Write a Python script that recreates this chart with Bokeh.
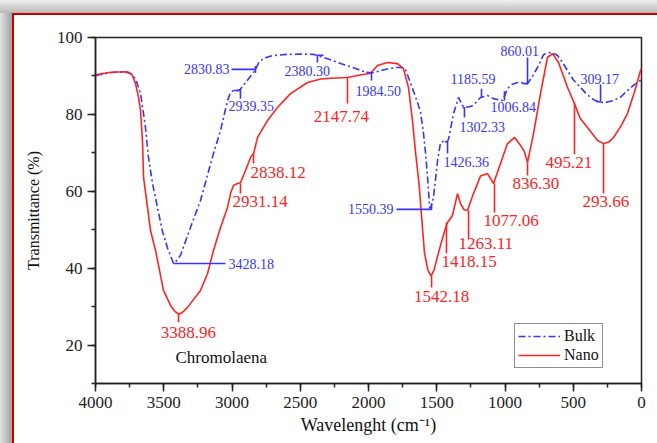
from bokeh.plotting import figure
from bokeh.models import Range1d, SingleIntervalTicker, Legend, LegendItem, ColumnDataSource
from bokeh.core.properties import value
from bokeh.embed import file_html
from bokeh.resources import INLINE

# ---------------- data ----------------
bulk_wn = [4000, 3900, 3850, 3780, 3743, 3707, 3670, 3648, 3634, 3612, 3582, 3546, 3509, 3470, 3428,
           3400, 3377, 3304, 3231, 3136, 3084, 3033, 3011, 2990, 2960, 2940, 2900, 2860, 2831, 2800,
           2750, 2700, 2600, 2500, 2400, 2380, 2300, 2200, 2100, 2030, 1985, 1950, 1900, 1850, 1800,
           1760, 1730, 1707, 1670, 1640, 1619, 1600, 1582, 1565, 1552, 1540, 1524, 1494, 1472, 1450,
           1426, 1414, 1377, 1341, 1311, 1297, 1260, 1231, 1179, 1128, 1084, 1050, 1018, 1000, 982,
           950, 908, 870, 835, 800, 762, 718, 690, 667, 640, 615, 580, 542, 500, 447, 410, 374, 340,
           300, 250, 205, 150, 103, 50, 0]
bulk_t = [90.1, 90.8, 91.0, 91.0, 90.6, 89.3, 85.4, 80.2, 76.6, 68.8, 62.0, 55.8, 49.5, 45.0, 41.2,
          42.2, 43.4, 50.6, 57.6, 69.8, 75.8, 83.6, 85.7, 86.2, 86.2, 86.5, 88.3, 90.1, 91.4, 93.8,
          94.8, 95.3, 95.6, 95.7, 95.6, 95.4, 94.5, 93.2, 92.0, 91.1, 90.7, 91.0, 91.5, 91.9, 92.2,
          92.2, 91.8, 89.6, 86.0, 83.0, 80.5, 76.0, 70.0, 62.5, 55.6, 56.2, 58.4, 68.0, 72.7, 73.0,
          72.8, 73.5, 80.2, 84.4, 82.3, 81.8, 82.0, 82.4, 84.4, 84.9, 84.1, 83.8, 83.6, 85.0, 86.7,
          87.8, 88.3, 88.2, 88.0, 89.8, 92.2, 95.5, 96.0, 96.1, 95.8, 95.3, 93.6, 91.4, 89.0, 87.0,
          85.6, 84.4, 83.6, 83.1, 83.2, 83.6, 84.6, 86.2, 87.8, 89.0]

nano_wn = [4000, 3900, 3800, 3760, 3730, 3707, 3685, 3670, 3655, 3648, 3620, 3597, 3560, 3502, 3450,
           3420, 3389, 3360, 3326, 3231, 3179, 3136, 3084, 3033, 3011, 2989, 2960, 2938, 2901, 2864,
           2842, 2813, 2740, 2667, 2571, 2447, 2350, 2278, 2154, 2081, 1985, 1934, 1861, 1788, 1744,
           1707, 1678, 1655, 1630, 1610, 1590, 1565, 1542, 1520, 1495, 1472, 1440, 1421, 1385, 1348,
           1326, 1300, 1275, 1231, 1179, 1128, 1084, 1033, 982, 930, 886, 860, 835, 791, 740, 689,
           652, 608, 542, 491, 450, 396, 322, 278, 240, 205, 150, 103, 50, 7, 0]
nano_t = [90.3, 90.9, 91.1, 91.0, 90.2, 88.0, 84.5, 81.0, 72.4, 63.6, 56.0, 49.8, 44.6, 34.2, 30.3,
          28.8, 28.0, 28.6, 29.8, 34.2, 38.6, 44.6, 50.6, 55.8, 59.4, 61.5, 62.0, 62.2, 65.4, 68.8,
          69.8, 74.0, 78.4, 81.8, 85.4, 88.3, 89.2, 89.4, 89.6, 90.1, 90.7, 92.7, 93.5, 93.2, 91.9,
          87.0, 78.4, 70.0, 62.0, 53.0, 44.0, 39.5, 38.0, 39.5, 43.0, 46.0, 50.0, 51.9, 53.7, 59.4,
          56.8, 55.2, 55.0, 59.4, 64.0, 64.6, 62.0, 67.2, 72.4, 74.0, 71.9, 70.5, 67.5, 75.0, 85.4,
          94.8, 95.8, 93.5, 87.0, 82.8, 79.0, 76.6, 73.2, 72.4, 72.8, 74.0, 77.0, 80.2, 86.0, 91.4,
          92.0]

# peak labels: text, text anchor (wavenumber, %T), leader line points
bulk_labels = ["2830.83", "2939.35", "2380.30", "1984.50", "3428.18", "1550.39",
               "1426.36", "1302.33", "1185.59", "1006.84", "860.01", "309.17"]
bulk_label_x = [3018, 3026, 2615, 2095, 3026, 1817, 1451, 1333, 1399, 1106, 1033, 447]
bulk_label_y = [91.7, 82.3, 91.4, 86.0, 41.2, 55.3, 67.7, 76.8, 89.1, 81.8, 96.4, 89.1]
bulk_label_align = ["right", "left", "left", "left", "left", "right",
                    "left", "left", "left", "left", "left", "left"]
bulk_leader_x = [[3004, 2828, 2828, 2828], [2989, 2938, 2938], [2330, 2374, 2374], [2015, 1978, 1978],
                 [3428, 3048], [1795, 1538, 1538], [1440, 1421, 1421], [1311, 1297, 1297],
                 [1172, 1172], [1004, 1004], [870, 835, 835], [330, 300, 300]]
bulk_leader_y = [[91.7, 91.7, 92.6, 90.8], [86.2, 86.2, 84.1], [95.4, 95.4, 93.5], [90.9, 90.9, 88.8],
                 [41.2, 41.2], [55.3, 55.3, 56.8], [72.9, 72.9, 69.8], [81.8, 81.8, 79.2],
                 [86.7, 84.4], [86.0, 83.6], [88.0, 88.0, 94.8], [83.3, 83.3, 87.8]]

nano_labels = ["3388.96", "2931.14", "2838.12", "2147.74", "1542.18", "1418.15",
               "1263.11", "1077.06", "836.30", "495.21", "293.66"]
nano_label_x = [3319, 2996, 2864, 2198, 1465, 1465, 1341, 1158, 945, 703, 432]
nano_label_y = [23.3, 57.3, 64.9, 79.4, 32.6, 41.7, 46.4, 52.4, 62.0, 67.5, 57.3]
nano_label_align = ["center", "left", "left", "center", "center", "left",
                    "left", "left", "left", "left", "left"]
nano_leader_x = [[3392, 3392], [2938, 2938], [2842, 2842], [2154, 2154], [1538, 1538], [1429, 1429],
                 [1267, 1267], [1077, 1077], [835, 835], [491, 491], [278, 278]]
nano_leader_y = [[28.0, 25.9], [62.0, 59.4], [69.8, 67.2], [89.6, 82.8], [38.1, 35.0], [51.9, 43.8],
                 [55.0, 47.7], [62.0, 54.5], [67.5, 64.1], [82.8, 69.6], [72.4, 59.4]]

sample_name = "Chromolaena"
series_names = ["Bulk", "Nano"]

# ---------------- styles ----------------
BLUE = "#3535ff"
RED = "#ff2424"
SERIF = "Liberation Serif"

p = figure(width=657, height=443, output_backend="svg", toolbar_location=None,
           x_range=Range1d(4000, 0), y_range=Range1d(10, 100),
           min_border_left=95, min_border_right=16, min_border_top=37, min_border_bottom=60)

p.border_fill_color = None
p.background_fill_color = "white"
p.styles = {"background": (
    "linear-gradient(#c80000,#c80000) 12px 13px/2px 100% no-repeat,"
    "linear-gradient(#c80000,#c80000) 12px 13px/100% 2px no-repeat,"
    "linear-gradient(#ffffff,#ffffff) 14px 15px/100% 100% no-repeat,"
    "linear-gradient(to bottom,#f0f0f0,#b8b8b8) 0 0/100% 13px no-repeat,"
    "linear-gradient(to right,#e4e4e4,#a0a0a0) 0 0/12px 100% no-repeat")}

p.grid.visible = False
p.outline_line_color = "#222222"
p.outline_line_width = 1.5

for ax in (p.xaxis[0], p.yaxis[0]):
    ax.axis_line_width = 1.5
    ax.axis_line_color = "#222222"
    ax.major_tick_line_color = "#222222"
    ax.minor_tick_line_color = "#222222"
    ax.major_tick_line_width = 1.5
    ax.minor_tick_line_width = 1.5
    ax.major_tick_in = 0
    ax.major_tick_out = 8
    ax.minor_tick_in = 0
    ax.minor_tick_out = 4
    ax.major_label_text_font = SERIF
    ax.major_label_text_font_size = "17px"
    ax.major_label_text_color = "#222222"
    ax.axis_label_text_font = SERIF
    ax.axis_label_text_font_style = "normal"
    ax.axis_label_text_color = "#111111"

p.xaxis.ticker = SingleIntervalTicker(interval=500, num_minor_ticks=2)
p.yaxis.ticker = SingleIntervalTicker(interval=20, num_minor_ticks=2)
p.xaxis.axis_label = "Wavelenght (cm\u207b\u00b9)"
p.yaxis.axis_label = "Transmittance (%)"
p.xaxis.axis_label_text_font_size = "18px"
p.yaxis.axis_label_text_font_size = "16px"
p.xaxis.axis_label_standoff = 4
p.yaxis.axis_label_standoff = 12

# curves
r_bulk = p.line(bulk_wn, bulk_t, line_color=BLUE, line_width=1.6, line_dash="7 3 2 3")
r_nano = p.line(nano_wn, nano_t, line_color=RED, line_width=1.6)

# leaders
p.multi_line(bulk_leader_x, bulk_leader_y, line_color=BLUE, line_width=1.6)
p.multi_line(nano_leader_x, nano_leader_y, line_color=RED, line_width=1.6)

# labels
for align in ("left", "right", "center"):
    idx = [i for i, a in enumerate(bulk_label_align) if a == align]
    if idx:
        src = ColumnDataSource(dict(x=[bulk_label_x[i] for i in idx], y=[bulk_label_y[i] for i in idx],
                                    t=[bulk_labels[i] for i in idx]))
        p.text("x", "y", text="t", source=src, text_color=BLUE, text_font=value(SERIF),
               text_font_size=value("14px"), text_align=align, text_baseline="middle")
    idx = [i for i, a in enumerate(nano_label_align) if a == align]
    if idx:
        src = ColumnDataSource(dict(x=[nano_label_x[i] for i in idx], y=[nano_label_y[i] for i in idx],
                                    t=[nano_labels[i] for i in idx]))
        p.text("x", "y", text="t", source=src, text_color=RED, text_font=value(SERIF),
               text_font_size=value("17px"), text_align=align, text_baseline="middle")

p.text(x=[3414], y=[16.7], text=[sample_name], text_color="#111111", text_font=value(SERIF),
       text_font_size=value("17px"), text_align="left", text_baseline="middle")

legend = Legend(items=[LegendItem(label=series_names[0], renderers=[r_bulk]),
                       LegendItem(label=series_names[1], renderers=[r_nano])],
                location=(419, 15), orientation="vertical")
legend.border_line_color = "#222222"
legend.border_line_width = 1.2
legend.background_fill_color = "white"
legend.label_text_font = SERIF
legend.label_text_font_size = "16px"
legend.label_text_color = "#111111"
legend.glyph_width = 42
legend.glyph_height = 16
legend.label_height = 16
legend.label_standoff = 4
legend.padding = 3
legend.spacing = 1
legend.margin = 0
p.add_layout(legend)

open("out.html", "w").write(file_html(p, INLINE))
